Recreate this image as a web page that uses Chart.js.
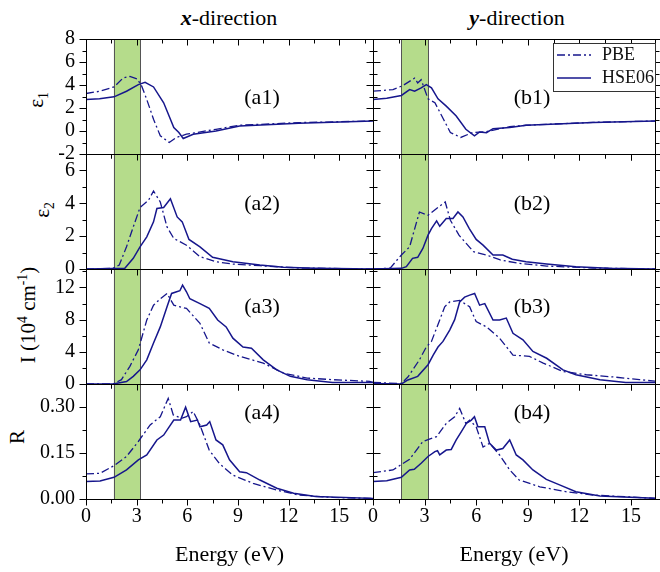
<!DOCTYPE html>
<html>
<head>
<meta charset="utf-8">
<script src="https://cdn.jsdelivr.net/npm/chart.js@4.4.0/dist/chart.umd.min.js"></script>
<style>
  body { margin: 0; background: #fff; }
  #wrap { position: relative; width: 660px; height: 572px; font-family: "Liberation Serif", "Times New Roman", Times, "DejaVu Serif", serif; color: #000; }
  #wrap canvas { position: absolute; left: 0; top: 0; }
  .head { position: absolute; top: 5px; width: 200px; text-align: center; font-size: 22px; line-height: 26px; font-weight: normal; }
  .ytitle { position: absolute; font-size: 21px; line-height: 1; white-space: nowrap; transform: translate(-50%, -50%) rotate(-90deg); }
  .ytitle sub, .ytitle sup { font-size: 65%; line-height: 0; }
</style>
</head>
<body>
<div id="wrap">
  <div class="head" style="left:129px"><b><i>x</i></b>-direction</div>
  <div class="head" style="left:417px"><b><i>y</i></b>-direction</div>
  <div class="ytitle" style="left:36px;top:100px">&epsilon;<sub>1</sub></div>
  <div class="ytitle" style="left:42px;top:210px">&epsilon;<sub>2</sub></div>
  <div class="ytitle" style="left:28px;top:315px">I (10<sup>4</sup> cm<sup>-1</sup>)</div>
  <div class="ytitle" style="left:17px;top:437px">R</div>
</div>
<script>
// series names and shaded band (eV)
const seriesNames = ['PBE', 'HSE06'];
const energyBand = [1.65, 3.2];

// x-direction, [energy, value]
const a1Pbe = [[0,3.26],[0.8,3.45],[1.66,3.83],[2.2,4.61],[2.6,4.75],[3.04,4.52],[3.3,3.9],[3.6,2.74],[4.0,1.02],[4.4,-0.42],[4.93,-1.0],[5.35,-0.56],[5.95,-0.28],[7.7,0.15],[9.1,0.5],[12.6,0.73],[17,0.87]];
const a1Hse = [[0,2.74],[0.8,2.8],[1.66,2.97],[2.4,3.46],[3.1,4.03],[3.5,4.23],[4.0,3.83],[4.6,2.45],[5.0,1.02],[5.2,0.3],[5.5,-0.13],[5.76,-0.65],[6.35,-0.28],[7.7,0.0],[9.1,0.44],[12.6,0.67],[17,0.87]];
const a2Pbe = [[0,0],[1.6,0.04],[1.97,0.24],[2.4,1.35],[2.8,2.56],[3.2,3.74],[3.7,4.18],[4.0,4.75],[4.4,4.08],[4.8,2.56],[5.2,1.86],[5.95,1.45],[6.75,0.75],[7.7,0.44],[8.7,0.3],[10.3,0.2],[12.6,0.06],[17,0]];
const a2Hse = [[0,0],[1.6,0.03],[2.3,0.05],[2.8,0.65],[3.2,1.35],[3.6,1.96],[4.0,2.87],[4.2,3.68],[4.6,3.74],[5.0,4.28],[5.4,3.17],[5.7,2.87],[6.1,1.8],[6.75,1.35],[7.5,0.71],[8.7,0.44],[10.3,0.24],[11.7,0.1],[13.6,0.04],[17,0]];
const a3Pbe = [[0,0],[1.6,0],[2.1,0.54],[2.6,2.2],[3.1,4.25],[3.6,7.96],[4.0,9.8],[4.4,10.6],[4.8,11.26],[5.2,9.8],[5.95,9.4],[6.75,7.55],[7.3,5.1],[8.1,4.25],[9.1,3.44],[10.5,2.6],[11.7,1.35],[13.1,0.74],[14.6,0.54],[16.8,0.33],[17,0.2]];
const a3Hse = [[0,0],[1.6,0],[2.4,0.3],[2.8,0.95],[3.2,1.76],[3.6,3.0],[4.0,5.1],[4.4,7.1],[4.8,9.6],[5.07,11.26],[5.37,11.47],[5.56,11.6],[5.72,12.3],[5.95,11.47],[6.15,10.6],[6.75,10.0],[7.3,9.4],[7.8,7.96],[8.3,7.1],[8.7,5.7],[9.3,4.6],[9.8,4.45],[10.5,3.0],[11.3,1.76],[12.1,0.95],[13.1,0.54],[14.6,0.2],[17,0.2]];
const a4Pbe = [[0,0.082],[0.83,0.084],[1.66,0.109],[2.4,0.139],[3.1,0.188],[3.8,0.242],[4.4,0.269],[4.87,0.329],[5.17,0.275],[5.66,0.264],[5.95,0.269],[6.35,0.286],[6.75,0.242],[7.3,0.16],[7.9,0.116],[8.7,0.078],[9.9,0.051],[11.3,0.029],[12.6,0.013],[14.6,0.005],[17,0.002]];
const a4Hse = [[0,0.057],[0.83,0.059],[1.66,0.071],[2.4,0.095],[3.1,0.128],[3.6,0.144],[4.2,0.193],[4.6,0.209],[5.2,0.258],[5.6,0.258],[5.9,0.30],[6.2,0.253],[6.6,0.258],[6.75,0.236],[7.15,0.242],[7.33,0.253],[7.7,0.193],[8.1,0.177],[8.5,0.128],[9.1,0.089],[9.5,0.086],[10.3,0.062],[11.3,0.035],[12.3,0.019],[13.6,0.008],[17,0.002]];

// y-direction, [energy, value]
const b1Pbe = [[0,3.46],[1.16,3.6],[1.74,3.95],[2.42,4.6],[2.6,4.18],[2.8,4.46],[3.2,2.8],[3.6,2.46],[4.1,1.02],[4.5,-0.13],[5.1,-0.56],[5.8,-0.13],[6.6,-0.05],[7.95,0.37],[8.9,0.5],[12.8,0.75],[16.5,0.87]];
const b1Hse = [[0,2.74],[0.8,2.85],[1.65,3.09],[2.13,3.6],[2.42,3.46],[2.8,3.75],[3.1,4.03],[3.4,3.75],[3.78,2.8],[4.26,2.16],[4.84,1.3],[5.4,0.15],[5.9,-0.42],[6.2,-0.08],[6.6,-0.15],[6.98,0.2],[7.95,0.3],[8.9,0.5],[12.8,0.73],[16.5,0.87]];
const b2Pbe = [[0,0],[1.0,0.05],[1.4,0.55],[1.65,0.85],[2.13,1.35],[2.4,2.36],[2.7,3.47],[3.2,3.27],[3.7,3.68],[4.2,4.08],[4.5,2.97],[5.0,2.06],[5.85,1.05],[6.6,0.85],[7.4,0.55],[8.5,0.34],[10.1,0.18],[12.8,0.06],[16.5,0]];
const b2Hse = [[0,0],[1.65,0.04],[1.94,0.14],[2.3,0.65],[2.6,0.71],[2.9,1.25],[3.2,2.06],[3.4,2.46],[3.7,2.93],[3.88,2.6],[4.26,3.07],[4.65,3.07],[4.94,3.47],[5.23,3.17],[5.6,2.46],[6.0,1.8],[6.4,1.45],[6.98,0.85],[7.55,0.85],[8.1,0.59],[8.9,0.44],[10.1,0.3],[11.8,0.14],[13.7,0.04],[16.5,0]];
const b3Pbe = [[0,0.2],[1.65,0.06],[2.03,0.87],[2.7,3.0],[3.1,4.6],[3.4,5.3],[3.88,7.96],[4.17,9.6],[4.46,10.2],[5.04,10.4],[5.62,9.6],[6.0,7.76],[6.6,7.1],[7.36,5.7],[8.14,3.6],[9.1,3.43],[9.9,2.6],[11.05,1.56],[12.4,1.15],[14.0,0.87],[15.5,0.54],[16.5,0.33]];
const b3Hse = [[0,0.06],[1.65,0],[2.03,0.5],[2.6,0.95],[3.2,2.4],[3.5,3.6],[3.78,4.6],[4.07,5.3],[4.46,6.7],[4.75,8.0],[5.04,10.2],[5.33,10.8],[5.62,11.05],[5.91,11.26],[6.2,9.8],[6.5,10.0],[6.98,7.96],[7.36,7.96],[7.75,8.2],[8.14,6.3],[8.72,5.5],[9.3,4.05],[10.1,3.2],[11.05,1.76],[11.8,1.15],[13.2,0.54],[14.7,0.2],[16.5,0.2]];
const b4Pbe = [[0,0.086],[1.16,0.095],[2.13,0.13],[2.9,0.188],[3.7,0.204],[4.26,0.247],[4.75,0.269],[5.04,0.296],[5.4,0.247],[5.62,0.258],[6.0,0.236],[6.4,0.17],[6.78,0.182],[7.36,0.144],[7.95,0.095],[8.5,0.062],[9.7,0.04],[11.2,0.024],[12.8,0.013],[16.5,0.002]];
const b4Hse = [[0,0.057],[0.8,0.06],[1.65,0.071],[2.13,0.095],[2.4,0.097],[2.8,0.117],[3.2,0.139],[3.6,0.155],[3.75,0.158],[3.88,0.144],[4.26,0.16],[4.55,0.162],[4.84,0.193],[5.14,0.22],[5.43,0.247],[5.72,0.258],[5.9,0.269],[6.1,0.236],[6.5,0.236],[6.78,0.182],[7.17,0.16],[7.55,0.165],[7.95,0.193],[8.33,0.144],[8.72,0.128],[9.3,0.095],[10.08,0.064],[10.85,0.046],[11.8,0.024],[13.2,0.01],[16.5,0.002]];

// axis ranges per row / column
const yMin = [-2, 0, 0, 0];
const yMax = [8, 7, 14.3, 0.376];
const yStep = [2, 2, 4, 0.15];
const xMax = [17, 16.4];

const panels = [
  { label: '(a1)', pbe: a1Pbe, hse: a1Hse, row: 0, col: 0 },
  { label: '(a2)', pbe: a2Pbe, hse: a2Hse, row: 1, col: 0 },
  { label: '(a3)', pbe: a3Pbe, hse: a3Hse, row: 2, col: 0 },
  { label: '(a4)', pbe: a4Pbe, hse: a4Hse, row: 3, col: 0 },
  { label: '(b1)', pbe: b1Pbe, hse: b1Hse, row: 0, col: 1 },
  { label: '(b2)', pbe: b2Pbe, hse: b2Hse, row: 1, col: 1 },
  { label: '(b3)', pbe: b3Pbe, hse: b3Hse, row: 2, col: 1 },
  { label: '(b4)', pbe: b4Pbe, hse: b4Hse, row: 3, col: 1 }
];

// page geometry
const W = 660, H = 572;
const rowTop = [39, 154, 269, 384], rowH = 115;
const colLeft = [86, 373], colRight = [373, 655];
const labelDx = [176, 159], labelDy = [59, 50, 38, 29];
const blue = '#16168c';
const serif = '"Liberation Serif", "Times New Roman", Times, "DejaVu Serif", serif';

Chart.defaults.font.family = serif;
Chart.defaults.font.size = 20;
Chart.defaults.color = '#000';

function toXY(pairs) {
  return pairs.map(p => ({ x: p[0], y: p[1] }));
}

// major ticks from the scale plus half-step minors
function tickMarks(scale) {
  const vals = scale.ticks.map(t => t.value);
  const step = vals[1] - vals[0];
  const eps = step * 1e-3;
  const out = vals.map(v => [v, true]);
  for (let v = vals[0] - step / 2; v <= scale.max + eps; v += step) {
    if (v >= scale.min - eps) out.push([v, false]);
  }
  return out;
}

const panelDecor = {
  id: 'panelDecor',
  beforeDatasetsDraw(chart) {
    const { ctx, chartArea: a, scales: { x } } = chart;
    const x1 = x.getPixelForValue(energyBand[0]);
    const x2 = x.getPixelForValue(energyBand[1]);
    ctx.save();
    ctx.fillStyle = '#b5dc8b';
    ctx.fillRect(x1, a.top, x2 - x1, a.bottom - a.top);
    ctx.strokeStyle = '#555';
    ctx.lineWidth = 1;
    ctx.beginPath();
    [x1, x2].forEach(px => {
      const p = Math.round(px) + 0.5;
      ctx.moveTo(p, a.top);
      ctx.lineTo(p, a.bottom);
    });
    ctx.stroke();
    ctx.restore();
  },
  afterDraw(chart, args, opts) {
    const { ctx, chartArea: a, scales: { x, y } } = chart;
    const L = Math.round(a.left) + 0.5, R = Math.round(a.right) + 0.5;
    const T = Math.round(a.top) + 0.5, B = Math.round(a.bottom) + 0.5;
    ctx.save();
    ctx.strokeStyle = '#000';
    ctx.lineWidth = 1;
    ctx.strokeRect(L, T, R - L, B - T);
    ctx.beginPath();
    tickMarks(x).forEach(([v, major]) => {
      const p = Math.round(x.getPixelForValue(v)) + 0.5;
      const len = major ? 6 : 4;
      ctx.moveTo(p, B); ctx.lineTo(p, B + len);
      ctx.moveTo(p, T); ctx.lineTo(p, T + len);
    });
    tickMarks(y).forEach(([v, major]) => {
      const p = Math.round(y.getPixelForValue(v)) + 0.5;
      const len = major ? 7 : 4;
      ctx.moveTo(L, p); ctx.lineTo(L - len, p);
      ctx.moveTo(R, p); ctx.lineTo(R + len, p);
    });
    ctx.stroke();

    ctx.fillStyle = '#000';
    ctx.font = '22px ' + serif;
    ctx.textAlign = 'center';
    ctx.textBaseline = 'middle';
    ctx.fillText(opts.label, a.left + opts.dx, a.top + opts.dy);

    if (opts.legend) {
      const lx = Math.round(a.right) - 102, ly = Math.round(a.top) + 4;
      ctx.fillStyle = '#fff';
      ctx.fillRect(lx, ly, 102, 48);
      ctx.strokeStyle = '#333';
      ctx.strokeRect(lx + 0.5, ly + 0.5, 102, 48);
      chart.data.datasets.forEach((ds, i) => {
        const yy = ly + 12 + i * 23;
        ctx.strokeStyle = ds.borderColor;
        ctx.lineWidth = ds.borderWidth;
        ctx.setLineDash(ds.borderDash || []);
        ctx.beginPath();
        ctx.moveTo(lx + 4, yy);
        ctx.lineTo(lx + 38, yy);
        ctx.stroke();
        ctx.setLineDash([]);
        ctx.fillStyle = '#111';
        ctx.textAlign = 'left';
        ctx.font = '18px ' + serif;
        ctx.fillText(ds.label, lx + 49, yy);
      });
    }
    ctx.restore();
  }
};

const wrap = document.getElementById('wrap');

panels.forEach(p => {
  const canvas = document.createElement('canvas');
  canvas.width = W;
  canvas.height = H;
  wrap.appendChild(canvas);

  const bottomRow = p.row === 3;
  const leftCol = p.col === 0;
  const xh = bottomRow ? 69 : 0;
  const yw = leftCol ? 86 : 0;

  new Chart(canvas.getContext('2d'), {
    type: 'line',
    data: {
      datasets: [{
        label: seriesNames[0],
        data: toXY(p.pbe),
        borderColor: blue,
        borderWidth: 1.3,
        borderDash: [8, 3, 2, 3],
        pointRadius: 0,
        tension: 0
      }, {
        label: seriesNames[1],
        data: toXY(p.hse),
        borderColor: blue,
        borderWidth: 1.5,
        pointRadius: 0,
        tension: 0
      }]
    },
    options: {
      responsive: false,
      animation: false,
      events: [],
      layout: {
        padding: {
          left: colLeft[p.col] - yw,
          right: W - colRight[p.col],
          top: rowTop[p.row],
          bottom: H - rowTop[p.row] - rowH - xh
        }
      },
      scales: {
        x: {
          type: 'linear',
          min: 0,
          max: xMax[p.col],
          grid: { display: false, drawTicks: false },
          border: { display: false },
          ticks: { display: bottomRow, stepSize: 3, includeBounds: false, autoSkip: false, maxRotation: 0, padding: 6 },
          title: { display: bottomRow, text: 'Energy (eV)', padding: 0, font: { size: 22 } },
          afterFit: s => { s.height = xh; }
        },
        y: {
          type: 'linear',
          min: yMin[p.row],
          max: yMax[p.row],
          grid: { display: false, drawTicks: false },
          border: { display: false },
          ticks: {
            display: leftCol,
            stepSize: yStep[p.row],
            includeBounds: false,
            autoSkip: false,
            padding: 11,
            callback: v => p.row === 3 ? v.toFixed(2) : v
          },
          afterFit: s => { s.width = yw; }
        }
      },
      plugins: {
        legend: { display: false },
        tooltip: { enabled: false },
        panelDecor: {
          label: p.label,
          dx: labelDx[p.col],
          dy: labelDy[p.row],
          legend: p.row === 0 && p.col === 1
        }
      }
    },
    plugins: [panelDecor]
  });
});
</script>
</body>
</html>
